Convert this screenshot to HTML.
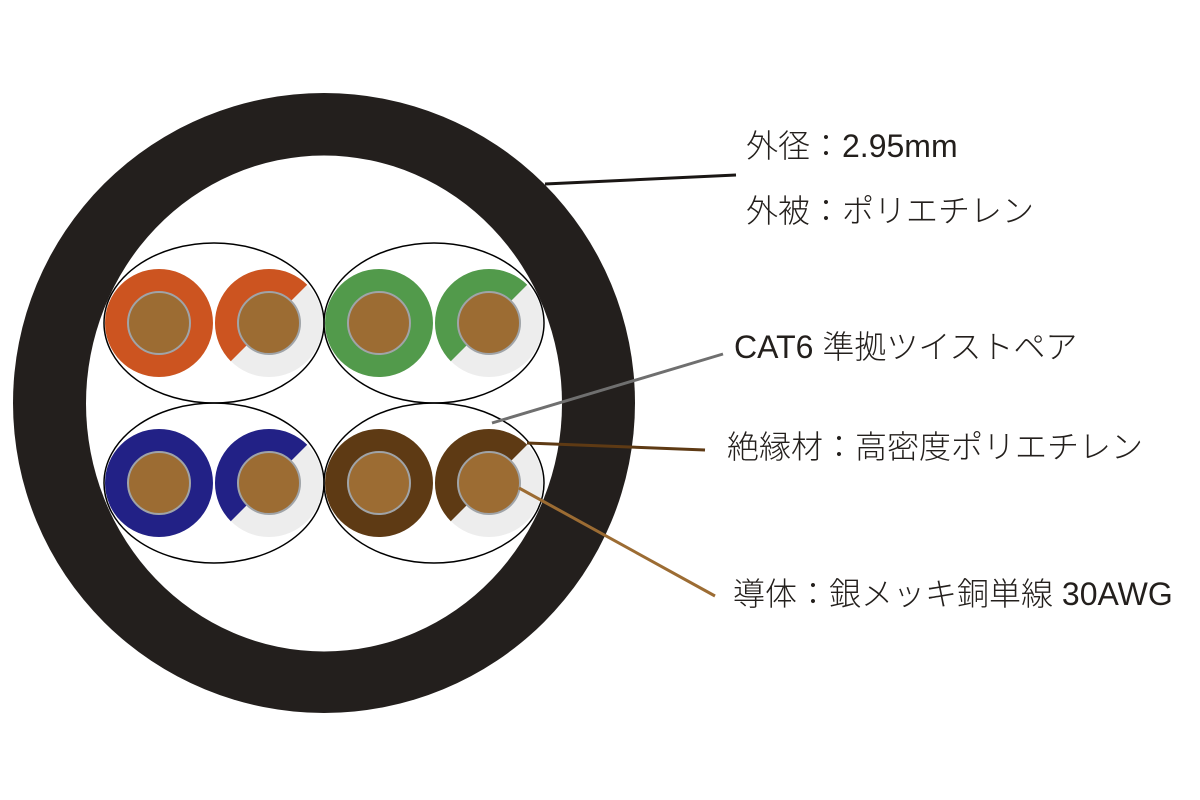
<!DOCTYPE html>
<html><head><meta charset="utf-8"><style>
html,body{margin:0;padding:0;background:#fff;}
svg{display:block;}
text{font-family:"Liberation Sans","Noto Sans CJK JP",sans-serif;font-size:32px;fill:#231f1c;font-weight:300;}
</style></head><body>
<svg width="1200" height="800" viewBox="0 0 1200 800" xmlns="http://www.w3.org/2000/svg">
<rect width="1200" height="800" fill="#fff"/>
<ellipse cx="324" cy="403" rx="311" ry="310" fill="#231f1d"/>
<ellipse cx="324" cy="403.5" rx="238" ry="248" fill="#fff"/>

<g fill="none" stroke="#000" stroke-width="1.5">
<ellipse cx="214" cy="323" rx="110" ry="80"/>
<ellipse cx="434" cy="323" rx="110" ry="80"/>
<ellipse cx="214" cy="483" rx="110" ry="80"/>
<ellipse cx="434" cy="483" rx="110" ry="80"/>
</g>

<g>
<circle cx="159" cy="323" r="54" fill="#cc5420"/>
<circle cx="379" cy="323" r="54" fill="#529a4b"/>
<circle cx="159" cy="483" r="54" fill="#222186"/>
<circle cx="379" cy="483" r="54" fill="#5e3a14"/>
</g>
<g>
<circle cx="269" cy="323" r="54" fill="#ededed"/>
<path d="M307.2 284.8 A54 54 0 0 0 230.8 361.2 L269 323 Z" fill="#cc5420"/>
<circle cx="489" cy="323" r="54" fill="#ededed"/>
<path d="M527.2 284.8 A54 54 0 0 0 450.8 361.2 L489 323 Z" fill="#529a4b"/>
<circle cx="269" cy="483" r="54" fill="#ededed"/>
<path d="M307.2 444.8 A54 54 0 0 0 230.8 521.2 L269 483 Z" fill="#222186"/>
<circle cx="489" cy="483" r="54" fill="#ededed"/>
<path d="M527.2 444.8 A54 54 0 0 0 450.8 521.2 L489 483 Z" fill="#5e3a14"/>
</g>
<g fill="#9c6c33" stroke="#a0a4a8" stroke-width="2">
<circle cx="159" cy="323" r="31"/><circle cx="269" cy="323" r="31"/>
<circle cx="379" cy="323" r="31"/><circle cx="489" cy="323" r="31"/>
<circle cx="159" cy="483" r="31"/><circle cx="269" cy="483" r="31"/>
<circle cx="379" cy="483" r="31"/><circle cx="489" cy="483" r="31"/>
</g>

<line x1="545" y1="184" x2="736" y2="175" stroke="#1a1614" stroke-width="3"/>
<line x1="492" y1="423" x2="723" y2="354" stroke="#6f6f6f" stroke-width="3"/>
<line x1="527" y1="443" x2="705" y2="450" stroke="#5e3a14" stroke-width="3"/>
<line x1="519" y1="488" x2="715" y2="596" stroke="#9c6c33" stroke-width="3"/>

<text x="746" y="157">外径：2.95mm</text>
<text x="746" y="222">外被：ポリエチレン</text>
<text x="734" y="358">CAT6 準拠ツイストペア</text>
<text x="727" y="458">絶縁材：高密度ポリエチレン</text>
<text x="733" y="605">導体：銀メッキ銅単線 30AWG</text>
</svg>
</body></html>
